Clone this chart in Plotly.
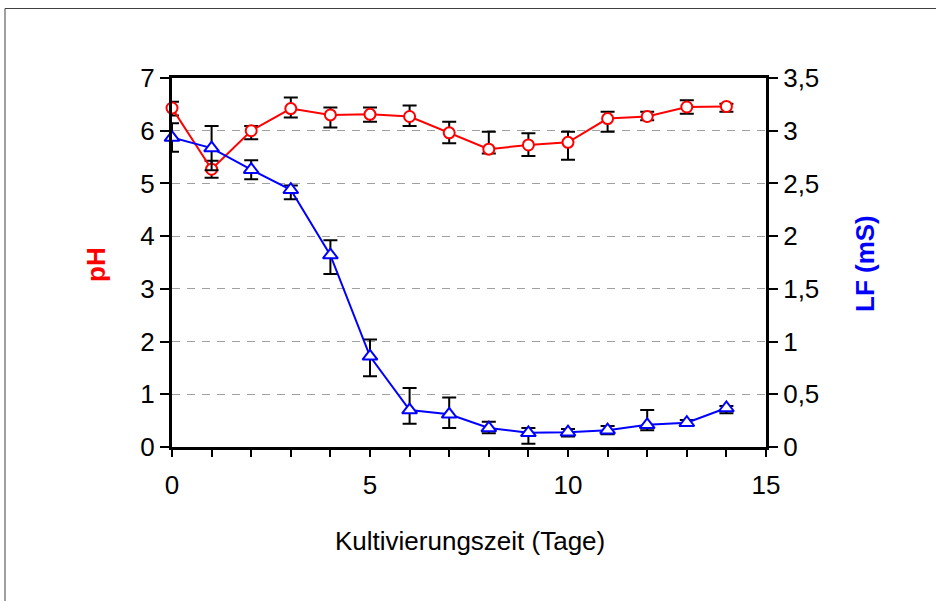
import plotly.graph_objects as go

days = list(range(15))
ph = [6.43, 5.27, 6.00, 6.42, 6.30, 6.31, 6.27, 5.96, 5.65, 5.73, 5.78, 6.23, 6.27, 6.45, 6.46]
ph_err_plus = [0.12, 0.16, 0.09, 0.21, 0.14, 0.13, 0.21, 0.21, 0.33, 0.22, 0.20, 0.13, 0.09, 0.13, 0.05]
ph_err_minus = [0.14, 0.16, 0.16, 0.17, 0.24, 0.14, 0.18, 0.20, 0.08, 0.21, 0.33, 0.25, 0.07, 0.13, 0.10]
lf = [2.935, 2.835, 2.63, 2.44, 1.82, 0.86, 0.35, 0.31, 0.18, 0.135, 0.14, 0.16, 0.21, 0.23, 0.37]
lf_err_plus = [0.135, 0.21, 0.09, 0.04, 0.14, 0.16, 0.21, 0.16, 0.06, 0.045, 0.03, 0.04, 0.14, 0.025, 0.02]
lf_err_minus = [0.135, 0.21, 0.09, 0.09, 0.18, 0.19, 0.13, 0.13, 0.05, 0.105, 0.04, 0.04, 0.05, 0.02, 0.05]

x_title = "Kultivierungszeit (Tage)"
y_title = "pH"
y2_title = "LF (mS)"

FONT = "Liberation Sans, Arial, sans-serif"
FS = 26

fig = go.Figure()
fig.add_trace(go.Scatter(
    x=days, y=lf, yaxis="y2", mode="lines+markers", name="LF",
    line=dict(color="#0000FF", width=2),
    marker=dict(symbol="triangle-up", size=13, color="white", line=dict(color="#0000FF", width=2)),
    error_y=dict(type="data", symmetric=False, array=lf_err_plus, arrayminus=lf_err_minus,
                 color="black", thickness=2, width=7),
    cliponaxis=False,
))
fig.add_trace(go.Scatter(
    x=days, y=ph, mode="lines+markers", name="pH",
    line=dict(color="#FF0000", width=2),
    marker=dict(symbol="circle", size=11, color="white", line=dict(color="#FF0000", width=2)),
    error_y=dict(type="data", symmetric=False, array=ph_err_plus, arrayminus=ph_err_minus,
                 color="black", thickness=2, width=7),
    cliponaxis=False,
))

L, R, T, B = 172, 766, 78, 447
W, H = 936, 601

def px_x(p):
    return (p - L) / (R - L)

def px_y(p):
    return (B - p) / (B - T)

fig.update_layout(
    width=W, height=H,
    margin=dict(l=L, r=W - R, t=T, b=H - B),
    paper_bgcolor="white", plot_bgcolor="white",
    separators=",.",
    showlegend=False,
    font=dict(family=FONT, size=FS, color="black"),
    xaxis=dict(range=[0, 15], dtick=5, tick0=0, showgrid=False, zeroline=False,
               showline=True, linewidth=3, linecolor="black", mirror=True,
               ticks="outside", ticklen=7, tickwidth=2, tickcolor="black",
               ticklabelstandoff=6,
               minor=dict(dtick=1, ticks="outside", ticklen=7, tickwidth=2, tickcolor="black"),
               tickfont=dict(family=FONT, size=FS)),
    yaxis=dict(range=[0, 7], dtick=1, showgrid=True, gridcolor="#A0A0A0", gridwidth=1,
               griddash="8px,7px", zeroline=False,
               showline=True, linewidth=3, linecolor="black",
               ticks="outside", ticklen=9, tickwidth=2, tickcolor="black",
               tickfont=dict(family=FONT, size=FS)),
    yaxis2=dict(range=[0, 3.5], dtick=0.5, overlaying="y", side="right", showgrid=False,
                zeroline=False, showline=True, linewidth=3, linecolor="black",
                ticks="outside", ticklen=9, tickwidth=2, tickcolor="black",
                tickfont=dict(family=FONT, size=FS)),
    shapes=[dict(type="rect", xref="paper", yref="paper",
                 x0=px_x(5), x1=px_x(1200), y0=px_y(900), y1=px_y(8.5),
                 line=dict(color="#404040", width=1), fillcolor="rgba(0,0,0,0)", layer="below")],
    annotations=[
        dict(text=x_title, xref="paper", yref="paper", x=px_x(470), y=px_y(541),
             showarrow=False, font=dict(family=FONT, size=FS, color="black"),
             xanchor="center", yanchor="middle"),
        dict(text="<b>%s</b>" % y_title, xref="paper", yref="paper", x=px_x(96), y=px_y(265),
             showarrow=False, textangle=-90, font=dict(family=FONT, size=FS, color="#FF0000"),
             xanchor="center", yanchor="middle"),
        dict(text="<b>%s</b>" % y2_title, xref="paper", yref="paper", x=px_x(865), y=px_y(264),
             showarrow=False, textangle=-90, font=dict(family=FONT, size=FS, color="#0000FF"),
             xanchor="center", yanchor="middle"),
    ],
)

fig.write_html("out.html")
